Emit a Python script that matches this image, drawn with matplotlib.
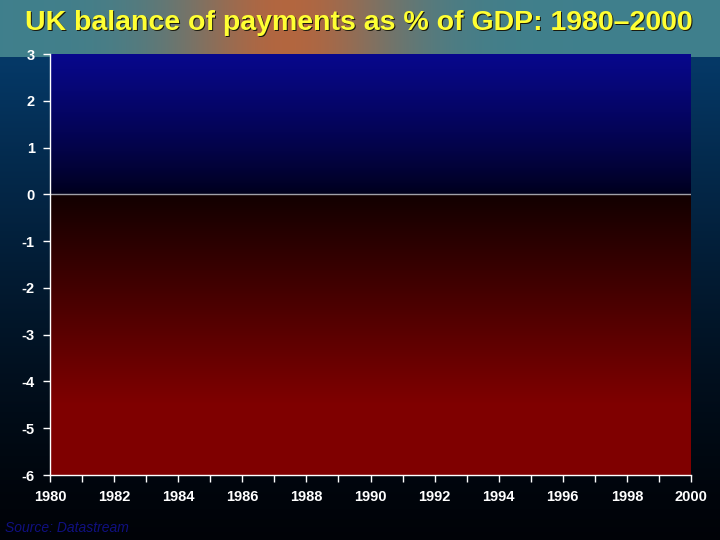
import numpy as np
import matplotlib
matplotlib.use("Agg")
import matplotlib.pyplot as plt

# chart values (no series is drawn on it)
years = list(range(1980, 2001))
year_labels = [str(y) for y in range(1980, 2001, 2)]
y_ticks = [3, 2, 1, 0, -1, -2, -3, -4, -5, -6]
title = "UK balance of payments as % of GDP: 1980\u20132000"
source = "Source: Datastream"

plt.rcParams['font.family'] = ['Liberation Sans', 'DejaVu Sans']

fig = plt.figure(figsize=(7.2, 5.4), dpi=100)

# slide background: textured band at top, blue fading to black below
bg = fig.add_axes([0, 0, 1, 1])
bg.set_axis_off()
h, w = 540, 720
yy = np.linspace(0, 1, h)[:, None]
xx = np.linspace(0, 1, w)[None, :]
base = np.array([0.02, 0.22, 0.40])
fade = np.clip((yy - 0.12) / 0.88, 0, 1)
img = base[None, None, :] * (1 - fade[..., None]) ** 1.3 * np.ones((h, w, 1))
img = img + np.array([0.0, 0.01, 0.03])[None, None, :] * fade[..., None]
# top band: teal with a warm brown/orange patch in the middle
band = yy < 0.105
teal = np.array([0.25, 0.50, 0.55])
warm = np.array([0.70, 0.40, 0.25])
mix = np.exp(-((xx - 0.40) / 0.16) ** 2)
band_col = teal[None, None, :] * (1 - mix[..., None]) + warm[None, None, :] * mix[..., None]
band_col = np.broadcast_to(band_col, (h, w, 3))
img = np.where(band[..., None], band_col, img)
bg.imshow(np.clip(img, 0, 1), extent=[0, 1, 0, 1], aspect='auto', origin='upper')
bg.set_xlim(0, 1)
bg.set_ylim(0, 1)

ax = fig.add_axes([50 / 720, 65 / 540, 641 / 720, 421 / 540])

# plot area gradient: blue above zero, dark red below
ys = np.linspace(3, -6, 400)
grad = np.zeros((len(ys), 1, 3))
for i, v in enumerate(ys):
    if v >= 0:
        t = (v / 3) ** 0.8
        grad[i, 0] = [0.0 + 0.03 * t, 0.0 + 0.03 * t, 0.10 + 0.45 * t]
    else:
        t = min(-v / 4.5, 1)
        grad[i, 0] = [0.07 + 0.43 * t, 0.0, 0.0]
ax.imshow(grad, extent=[1980, 2000, -6, 3], aspect='auto', origin='upper', zorder=0)
ax.axhline(0, color='#a0a0a8', lw=1, zorder=2)

ax.set_xlim(1980, 2000)
ax.set_ylim(-6, 3)
ax.set_xticks(years, minor=True)
ax.set_xticks(range(1980, 2001, 2))
ax.set_xticklabels(year_labels)
ax.set_yticks(y_ticks)
ax.set_yticklabels([str(v) for v in y_ticks])

for s in ['top', 'right']:
    ax.spines[s].set_visible(False)
for s in ['left', 'bottom']:
    ax.spines[s].set_color('white')
    ax.spines[s].set_linewidth(1)
ax.tick_params(axis='both', which='both', colors='white', length=5, width=1,
               labelsize=10.5, pad=6)
for lab in ax.get_xticklabels() + ax.get_yticklabels():
    lab.set_fontweight('bold')

fig.text(0.5, 0.955, title, ha='center', va='center', color='#1a1a10',
         fontsize=20.5, fontweight='bold')
fig.text(0.4985, 0.9575, title, ha='center', va='center', color='#ffff33',
         fontsize=20.5, fontweight='bold')
fig.text(5 / 720, 1 - 528 / 540, source, ha='left', va='center',
         color='#101080', fontsize=10, style='italic')

fig.savefig("out.png", dpi=100)
